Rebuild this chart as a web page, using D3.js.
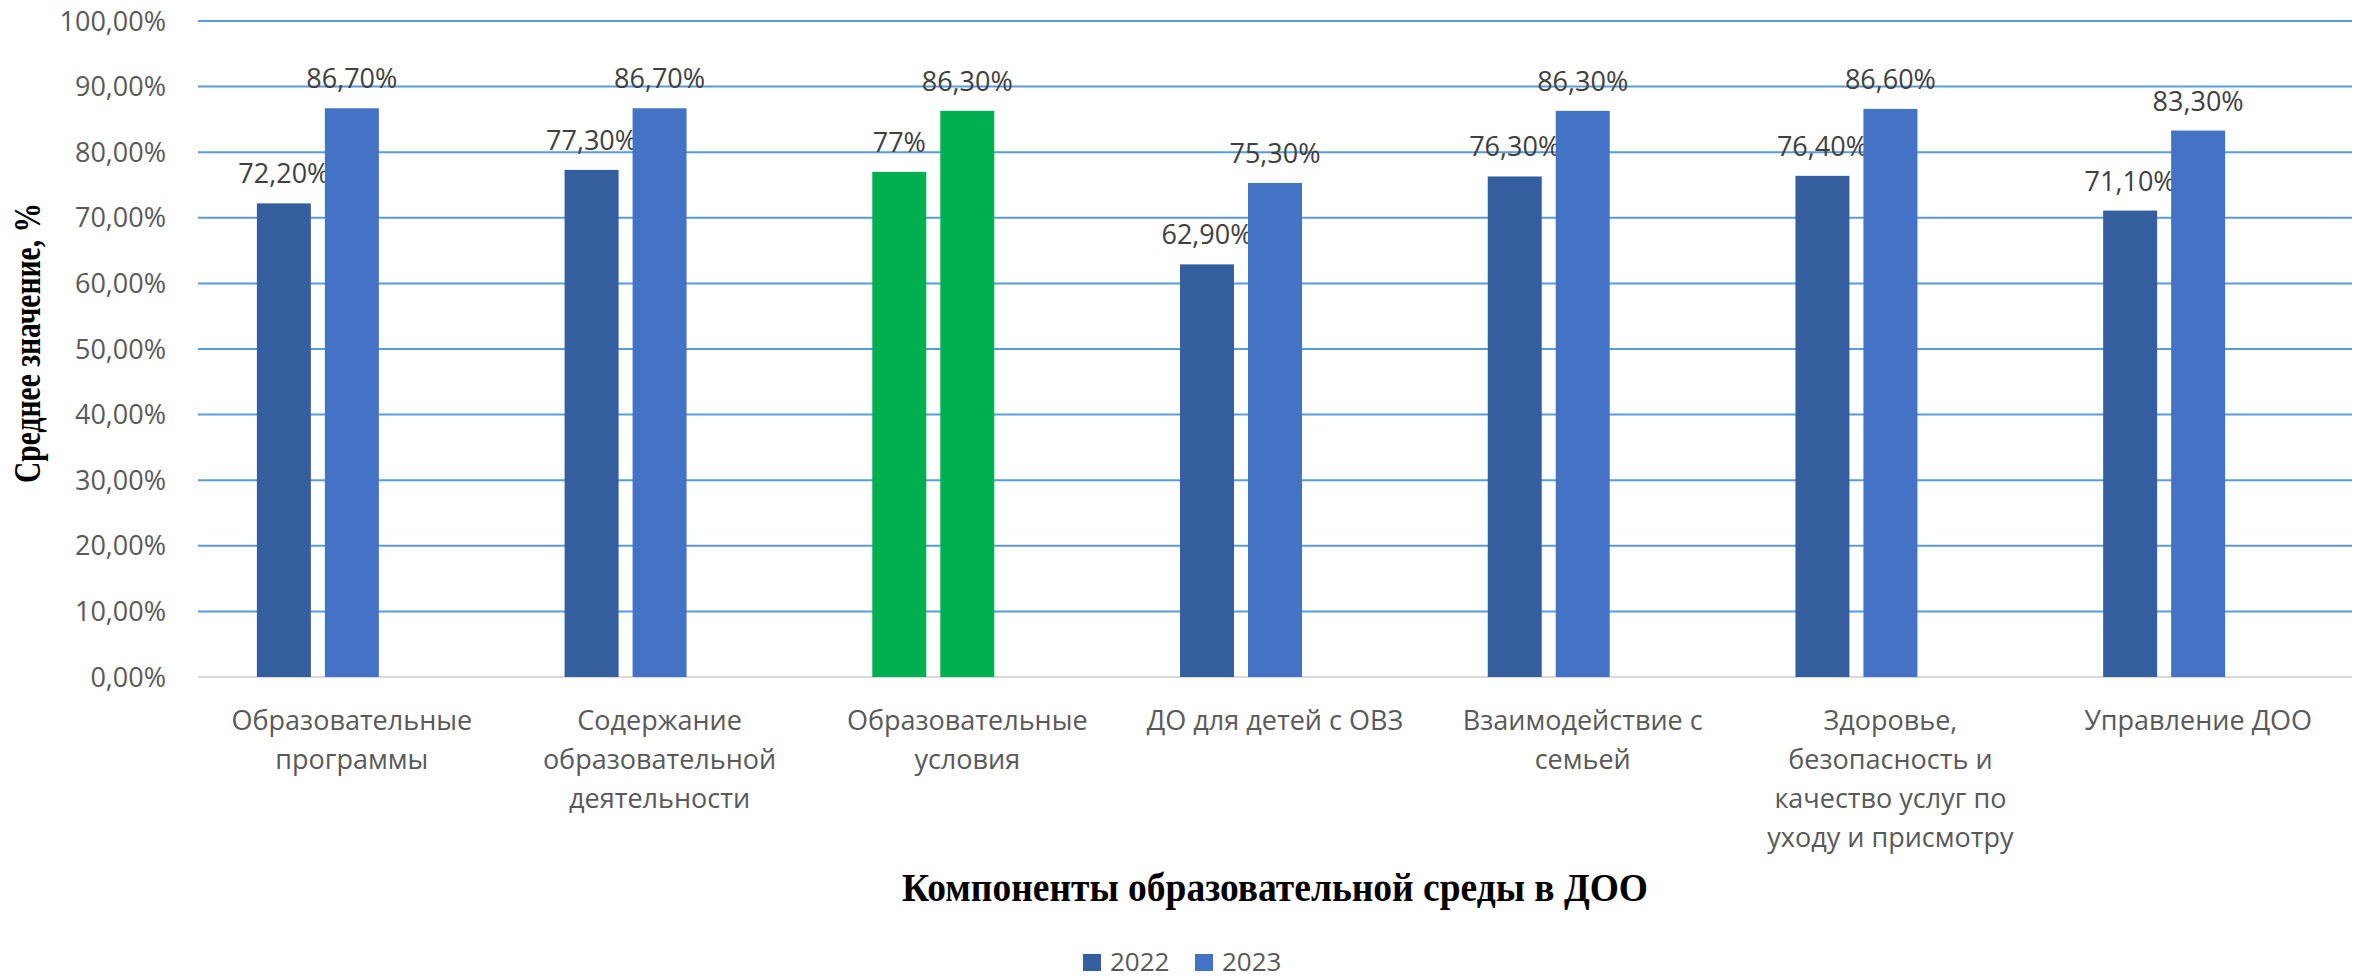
<!DOCTYPE html>
<html><head><meta charset="utf-8">
<script src="https://cdn.jsdelivr.net/npm/d3@7"></script>
<style>
html,body{margin:0;padding:0;background:#fff;}
svg{display:block;}
</style></head>
<body>
<svg id="chart" width="2359" height="980"></svg>
<script>
const categories = [
  "Образовательные\nпрограммы",
  "Содержание\nобразовательной\nдеятельности",
  "Образовательные\nусловия",
  "ДО для детей с ОВЗ",
  "Взаимодействие с\nсемьей",
  "Здоровье,\nбезопасность и\nкачество услуг по\nуходу и присмотру",
  "Управление ДОО"
];
const seriesNames = ["2022", "2023"];
const values2022 = [72.2, 77.3, 77.0, 62.9, 76.3, 76.4, 71.1];
const values2023 = [86.7, 86.7, 86.3, 75.3, 86.3, 86.6, 83.3];
const labels2022 = ["72,20%", "77,30%", "77%", "62,90%", "76,30%", "76,40%", "71,10%"];
const labels2023 = ["86,70%", "86,70%", "86,30%", "75,30%", "86,30%", "86,60%", "83,30%"];
const yTicks = [0, 10, 20, 30, 40, 50, 60, 70, 80, 90, 100];
const yTickLabels = ["0,00%", "10,00%", "20,00%", "30,00%", "40,00%", "50,00%", "60,00%", "70,00%", "80,00%", "90,00%", "100,00%"];
const highlightIndex = 2;
const yTitle = "Среднее значение, %";
const xTitle = "Компоненты образовательной среды в ДОО";

const colors = {"2022": "#355E9E", "2023": "#4472C4"};
const highlightColor = "#00B050";

(function () {
const svg = d3.select("#chart");
const mLeft = 198, mRight = 2352, mTop = 21, mBottom = 677;
const font = "'Open Sans', sans-serif";
const serif = "'Liberation Serif', 'Times New Roman', serif";

const x = d3.scaleBand().domain(d3.range(categories.length)).range([mLeft, mRight]).padding(0);
const slots = ["2022", "2023", "_empty"];
const xs = d3.scaleBand().domain(slots).range([0, x.bandwidth()]).paddingInner(14/68).paddingOuter(0.866);
const y = d3.scaleLinear().domain([0, 100]).range([mBottom, mTop]);

// gridlines
svg.append("g").selectAll("line").data(yTicks.filter(d => d > 0)).join("line")
  .attr("x1", mLeft).attr("x2", mRight)
  .attr("y1", d => y(d)).attr("y2", d => y(d))
  .attr("stroke", "#5B9BD5").attr("stroke-width", 2);

// y axis labels
const yAxis = d3.axisLeft(y).tickValues(yTicks).tickSize(0).tickPadding(0)
  .tickFormat((d, i) => yTickLabels[i]);
const gy = svg.append("g").attr("transform", "translate(166,0)").call(yAxis);
gy.select(".domain").remove();
gy.selectAll("text").attr("font-family", font).attr("font-size", 27).attr("fill", "#595959").attr("dy", "0.34em");

// baseline
svg.append("line").attr("x1", mLeft).attr("x2", mRight).attr("y1", y(0)).attr("y2", y(0))
  .attr("stroke", "#D9D9D9").attr("stroke-width", 2);

const rows = categories.map((c, i) => ({i, v: [values2022[i], values2023[i]], l: [labels2022[i], labels2023[i]]}));
const groups = svg.append("g").selectAll("g").data(rows).join("g")
  .attr("transform", d => `translate(${x(d.i)},0)`);

seriesNames.forEach((s, k) => {
  groups.append("rect")
    .attr("x", xs(s)).attr("width", xs.bandwidth())
    .attr("y", d => y(d.v[k])).attr("height", d => y(0) - y(d.v[k]))
    .attr("fill", d => d.i === highlightIndex ? highlightColor : colors[s]);
  groups.append("text")
    .attr("x", xs(s) + xs.bandwidth() / 2)
    .attr("y", d => y(d.v[k]) - 20)
    .attr("text-anchor", "middle")
    .attr("font-family", font).attr("font-size", 27).attr("fill", "#404040")
    .text(d => d.l[k]);
});

// category labels
const xAxis = svg.append("g");
categories.forEach((c, i) => {
  const t = xAxis.append("text")
    .attr("text-anchor", "middle")
    .attr("font-family", font).attr("font-size", 27).attr("fill", "#595959");
  c.split("\n").forEach((line, j) => {
    t.append("tspan").attr("x", x(i) + x.bandwidth() / 2).attr("y", 730 + j * 39).text(line);
  });
});

// axis titles (condensed bold serif, as in the reference)
svg.append("text")
  .attr("transform", "translate(40,343) rotate(-90)")
  .attr("x", -140)
  .attr("font-family", serif)
  .attr("font-weight", "bold").attr("font-size", 38).attr("fill", "#000")
  .attr("textLength", 280).attr("lengthAdjust", "spacingAndGlyphs")
  .text(yTitle);

svg.append("text")
  .attr("x", (mLeft + mRight) / 2 - 373).attr("y", 901)
  .attr("font-family", serif)
  .attr("font-weight", "bold").attr("font-size", 41).attr("fill", "#000")
  .attr("textLength", 746).attr("lengthAdjust", "spacingAndGlyphs")
  .text(xTitle);

// legend
const legendItems = [{name: "2022", x: 1083}, {name: "2023", x: 1195}];
const lg = svg.append("g");
legendItems.forEach(d => {
  lg.append("rect").attr("x", d.x).attr("y", 954).attr("width", 18).attr("height", 17).attr("fill", colors[d.name]);
  lg.append("text").attr("x", d.x + 27).attr("y", 971)
    .attr("font-family", font).attr("font-size", 26).attr("fill", "#595959").text(d.name);
});
})();
</script>
</body></html>
